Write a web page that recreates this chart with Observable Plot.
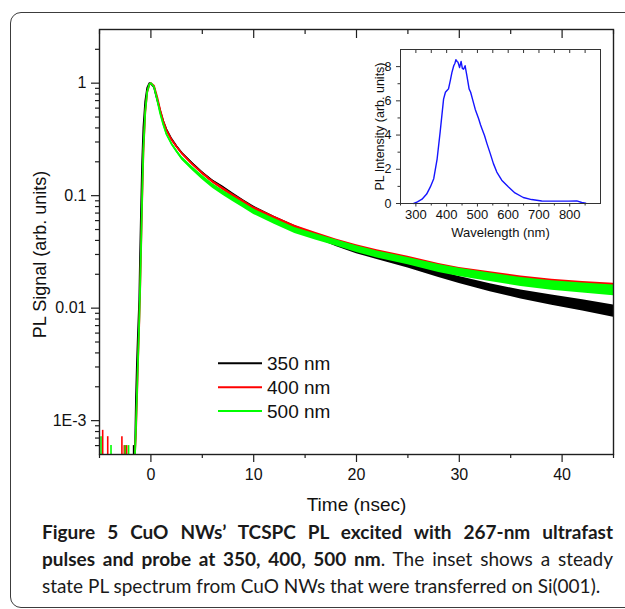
<!DOCTYPE html>
<html><head><meta charset="utf-8">
<script src="https://cdn.jsdelivr.net/npm/d3@7"></script>
<script src="https://cdn.jsdelivr.net/npm/@observablehq/plot@0.6"></script>
<style>
html,body{margin:0;padding:0;background:#fff;}
#page{position:relative;width:625px;height:609px;overflow:hidden;background:#fff;}
#border{position:absolute;left:10px;top:12px;width:680px;height:594px;border:1.5px solid #3c3c3c;border-radius:11px;pointer-events:none;}
#main{position:absolute;left:0;top:0;}
#inset{position:absolute;left:340px;top:40px;}
#legend{position:absolute;left:210px;top:348px;}
#caption{position:absolute;left:42px;top:518px;width:571px;font-family:Lato, "Open Sans", sans-serif;font-size:19px;line-height:27px;color:#1a1a1a;}
.ln{text-align:justify;text-align-last:justify;}
.ln.last{text-align-last:left;}
</style></head><body>
<div id="page">
  <div id="main"></div>
  <div id="inset"></div>
  <div id="legend"></div>
  <div id="caption">
    <div class="ln"><b>Figure 5 CuO NWs’ TCSPC PL excited with 267-nm ultrafast</b></div>
    <div class="ln"><b>pulses and probe at 350, 400, 500 nm</b>. The inset shows a steady</div>
    <div class="ln last">state PL spectrum from CuO NWs that were transferred on Si(001).</div>
  </div>
  <div id="border"></div>
</div>
<script>
// ---------- main panel data ----------
const times = [-1.55, -1.45, -1.35, -1.25, -1.13, -1.05, -0.95, -0.85, -0.73, -0.55, -0.36, -0.15, 0,
  0.3, 0.6, 0.9, 1.2, 1.5, 2, 2.5, 3, 4, 5, 6, 7, 8, 9, 10, 12, 14, 16, 18, 20, 22, 25, 28, 30, 33, 36, 39, 42, 45];
const pl350 = [0.0005, 0.0016, 0.0034, 0.0062, 0.012, 0.03, 0.08, 0.2, 0.4, 0.69, 0.91, 1.0, 0.99,
  0.92, 0.72, 0.57, 0.46, 0.39, 0.32, 0.275, 0.24, 0.195, 0.16, 0.135, 0.118, 0.102, 0.089, 0.078,
  0.063, 0.052, 0.044, 0.037, 0.032, 0.0285, 0.0242, 0.020, 0.0178, 0.0152, 0.0132, 0.0118, 0.0106, 0.0094];
const pl400 = [0.0005, 0.0008, 0.0016, 0.0034, 0.0075, 0.014, 0.035, 0.09, 0.24, 0.55, 0.83, 0.97, 1.0,
  0.95, 0.76, 0.58, 0.46, 0.385, 0.315, 0.272, 0.238, 0.192, 0.158, 0.133, 0.115, 0.1, 0.088, 0.077,
  0.063, 0.052, 0.045, 0.039, 0.0345, 0.031, 0.027, 0.0232, 0.0213, 0.0194, 0.0177, 0.0165, 0.0157, 0.0150];
const pl500 = [0.0005, 0.0009, 0.0018, 0.0036, 0.008, 0.015, 0.038, 0.1, 0.26, 0.56, 0.84, 0.98, 1.0,
  0.93, 0.72, 0.54, 0.43, 0.355, 0.29, 0.248, 0.215, 0.175, 0.145, 0.122, 0.106, 0.093, 0.082, 0.072,
  0.059, 0.049, 0.043, 0.038, 0.0335, 0.030, 0.0262, 0.0225, 0.0208, 0.0188, 0.0171, 0.0159, 0.0151, 0.0144];
// half-width of the noise band (decades)
const noise350 = [0,0,0,0,0,0,0,0,0,0,0,0,0,
  0,0.003,0.004,0.005,0.006, 0.007,0.008,0.009, 0.01,0.011,0.012,0.013,0.014,0.015,0.016,
  0.017,0.018,0.019,0.02,0.021,0.023, 0.026,0.029,0.032,0.036,0.04,0.045,0.05,0.054];
const noise400 = [0,0,0,0,0,0,0,0,0,0,0,0,0,
  0,0.003,0.004,0.005,0.006, 0.007,0.008,0.009, 0.01,0.011,0.012,0.013,0.014,0.015,0.016,
  0.018,0.02,0.022,0.024,0.026,0.028, 0.03,0.032,0.034,0.036,0.038,0.04,0.042,0.045];
const noise500 = [0,0,0,0,0,0,0,0,0,0,0,0,0,
  0,0.004,0.006,0.008,0.01, 0.012,0.014,0.016, 0.018,0.02,0.021,0.022,0.023,0.024,0.024,
  0.025,0.026,0.027,0.028,0.03,0.031, 0.033,0.035,0.036,0.038,0.04,0.042,0.045,0.048];
const seriesNames = ["350 nm", "400 nm", "500 nm"];
const seriesColors = ["#000000", "#ff0000", "#00ff00"];
const seriesValues = [pl350, pl400, pl500];
const seriesNoise = [noise350, noise400, noise500];

// spikes in the pre-pulse baseline
const spikeTimes  = [-4.85, -4.69, -4.2, -3.88, -2.82, -2.59, -2.49, -2.36, -2.17, -1.68];
const spikeValues = [7.2e-4, 8.2e-4, 7.2e-4, 6.0e-4, 7.2e-4, 6.0e-4, 6.0e-4, 6.0e-4, 6.0e-4, 6.0e-4];
const spikeSeries = ["500 nm", "400 nm", "400 nm", "500 nm", "400 nm", "400 nm", "500 nm", "400 nm", "500 nm", "350 nm"];

// axes
const xDomain = [-5, 45];
const yDomain = [5e-4, 3];
const xMajor = [0, 10, 20, 30, 40];
const xMinor = [-5, 5, 15, 25, 35, 45];
const yMajor = [0.001, 0.01, 0.1, 1];
const yMajorLabels = ["1E-3", "0.01", "0.1", "1"];
const yMinor = [6e-4, 7e-4, 8e-4, 9e-4, 0.002, 0.003, 0.004, 0.005, 0.006, 0.007, 0.008, 0.009,
  0.02, 0.03, 0.04, 0.05, 0.06, 0.07, 0.08, 0.09, 0.2, 0.3, 0.4, 0.5, 0.6, 0.7, 0.8, 0.9, 2];

// ---------- inset data ----------
const wavelength = [293, 305, 320, 335, 347, 358, 369, 379, 390, 396, 401, 406, 412, 417, 423, 427, 430, 434, 437,
  442, 447, 451, 455, 460, 466, 473, 478, 484, 493, 504, 510, 515, 523, 531, 542, 552, 563, 579, 601, 622,
  649, 676, 709, 753, 796, 823, 839, 852];
const intensity = [0, 0.1, 0.25, 0.55, 0.97, 1.45, 2.6, 4.2, 6.1, 6.5, 6.6, 6.7, 7.2, 7.65, 8.05, 8.2, 8.4, 8.3, 8.25,
  7.95, 8.3, 7.9, 7.85, 8.05, 7.45, 6.7, 6.5, 6.1, 5.5, 4.95, 4.6, 4.35, 3.97, 3.5, 2.9, 2.33, 1.84, 1.36, 0.97, 0.62,
  0.35, 0.23, 0.15, 0.14, 0.14, 0.15, 0.06, 0.02];
const insetXMajor = [300, 400, 500, 600, 700, 800];
const insetXMinor = [250, 350, 450, 550, 650, 750, 850];
const insetYMajor = [0, 2, 4, 6, 8];
const insetYMinor = [1, 3, 5, 7];

// ---------- build main plot ----------
const font = "'Liberation Sans', Arial, sans-serif";
const axisColor = "#1e1e1e";
const seriesMarks = [];
seriesNames.forEach((name, s) => {
  const rows = times.map((t, i) => ({
    t, v: seriesValues[s][i],
    lo: seriesValues[s][i] * Math.pow(10, -seriesNoise[s][i]),
    hi: seriesValues[s][i] * Math.pow(10, seriesNoise[s][i])
  }));
  seriesMarks.push(Plot.areaY(rows, {x: "t", y1: "lo", y2: "hi", fill: seriesColors[s], clip: true}));
  seriesMarks.push(Plot.lineY(rows, {x: "t", y: "v", stroke: seriesColors[s], strokeWidth: 1.8, clip: true}));
});
const spikes = spikeTimes.map((t, i) => ({t, v: spikeValues[i], c: seriesColors[seriesNames.indexOf(spikeSeries[i])]}));

const main = Plot.plot({
  width: 625, height: 524,
  marginLeft: 99, marginRight: 12, marginTop: 29, marginBottom: 70,
  x: {domain: xDomain},
  y: {type: "log", domain: yDomain},
  style: {fontFamily: font, background: "transparent", color: "#111"},
  marks: [
    Plot.ruleX(spikes, {x: "t", y1: yDomain[0], y2: "v", stroke: "c", strokeWidth: 1.6}),
    ...seriesMarks,
    Plot.axisX({ticks: xMajor, tickSize: 8, tickPadding: 6, fontSize: 16, label: null, stroke: axisColor, strokeWidth: 1.2}),
    Plot.axisX({ticks: xMinor, tickSize: 4, tickFormat: () => "", label: null, stroke: axisColor, strokeWidth: 1.2}),
    Plot.axisX({anchor: "top", ticks: xMajor, tickSize: 8, dy: 8, tickFormat: () => "", label: null, stroke: axisColor, strokeWidth: 1.2}),
    Plot.axisX({anchor: "top", ticks: xMinor, tickSize: 4, dy: 4, tickFormat: () => "", label: null, stroke: axisColor, strokeWidth: 1.2}),
    Plot.axisY({ticks: yMajor, tickSize: 8, tickPadding: 5, fontSize: 16, label: null,
      tickFormat: d => yMajorLabels[yMajor.indexOf(d)], stroke: axisColor, strokeWidth: 1.2}),
    Plot.axisY({ticks: yMinor, tickSize: 4, tickFormat: () => "", label: null, stroke: axisColor, strokeWidth: 1.2}),
    Plot.text(["Time (nsec)"], {text: d => d, frameAnchor: "bottom", dy: 50, textAnchor: "middle", lineAnchor: "middle", fontSize: 19}),
    Plot.text(["PL Signal (arb. units)"], {text: d => d, frameAnchor: "left", rotate: -90, dx: -59, dy: 12.5, textAnchor: "middle", lineAnchor: "middle", fontSize: 18}),
    Plot.frame({stroke: axisColor, strokeWidth: 1.4})
  ]
});
document.getElementById("main").appendChild(main);

// ---------- inset ----------
const spectrum = wavelength.map((w, i) => ({w, I: intensity[i]}));
const inset = Plot.plot({
  width: 270, height: 200,
  marginLeft: 60, marginRight: 10, marginTop: 9, marginBottom: 37,
  x: {domain: [250, 900]},
  y: {domain: [0, 9]},
  style: {fontFamily: font, background: "transparent", color: "#111"},
  marks: [
    Plot.lineY(spectrum, {x: "w", y: "I", stroke: "#1515ff", strokeWidth: 1.4}),
    Plot.axisX({ticks: insetXMajor, tickSize: 3.5, tickPadding: 3, fontSize: 13, label: null, stroke: "#333"}),
    Plot.axisX({ticks: insetXMinor, tickSize: 2.5, tickFormat: () => "", label: null, stroke: "#333"}),
    Plot.axisX({anchor: "top", ticks: insetXMajor.concat(insetXMinor), tickSize: 3, dy: 3, tickFormat: () => "", label: null, stroke: "#333"}),
    Plot.axisY({ticks: insetYMajor, tickSize: 4, tickPadding: 5, fontSize: 12.5, label: null, stroke: "#333"}),
    Plot.axisY({ticks: insetYMinor, tickSize: 2.5, tickFormat: () => "", label: null, stroke: "#333"}),
    Plot.text(["Wavelength (nm)"], {text: d => d, frameAnchor: "bottom", dy: 29, textAnchor: "middle", lineAnchor: "middle", fontSize: 13}),
    Plot.text(["PL Intensity (arb. units)"], {text: d => d, frameAnchor: "left", rotate: -90, dx: -21, textAnchor: "middle", lineAnchor: "middle", fontSize: 12.5}),
    Plot.frame({stroke: "#333", strokeWidth: 1})
  ]
});
document.getElementById("inset").appendChild(inset);

// ---------- legend ----------
const lg = d3.select("#legend").append("svg").attr("width", 140).attr("height", 80)
  .style("font-family", font).style("overflow", "visible");
seriesNames.forEach((name, i) => {
  const y = 15.3 + i * 23.9;
  lg.append("line").attr("x1", 8).attr("x2", 52).attr("y1", y).attr("y2", y)
    .attr("stroke", seriesColors[i]).attr("stroke-width", 2);
  lg.append("text").attr("x", 57).attr("y", y).attr("dy", "0.36em")
    .attr("font-size", 19).attr("fill", "#111").text(name);
});
</script>
</body></html>
